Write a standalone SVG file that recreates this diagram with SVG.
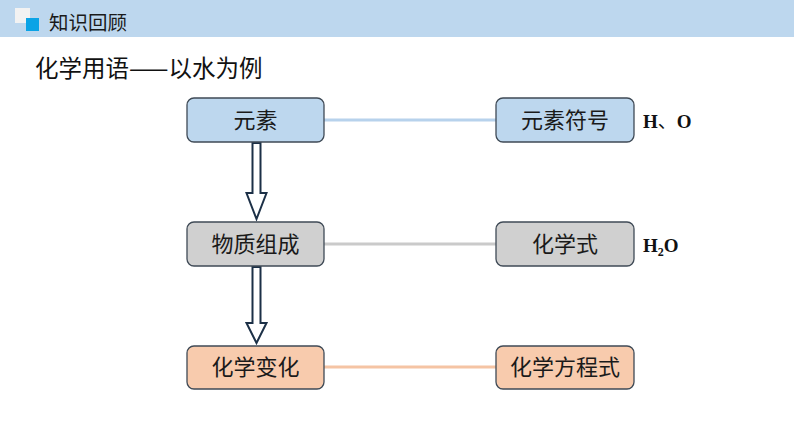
<svg xmlns="http://www.w3.org/2000/svg" width="794" height="447" viewBox="0 0 794 447">
<style>
.box{stroke:#3f4a56;stroke-width:1.3}
.bt{font-family:"Noto Sans CJK SC","Noto Sans",sans-serif;font-size:22px;fill:#1a1a1a;text-anchor:middle}
.chem{font-family:"Liberation Serif",serif;font-weight:bold;font-size:19px;fill:#111}
.arr{fill:#fff;stroke:#1c3047;stroke-width:2;stroke-linejoin:miter}
</style>
<rect x="0" y="0" width="794" height="447" fill="#fff"/>
<rect x="0" y="0" width="794" height="37" fill="#bdd7ee"/>
<rect x="15" y="8" width="15" height="15" fill="#f2f2f2"/>
<rect x="26" y="18" width="13" height="13" fill="#0aa3e6"/>
<text x="49" y="30" font-family="Noto Sans CJK SC,sans-serif" font-size="19.5" fill="#1a1a1a">知识回顾</text>
<text x="35" y="77" font-family="Noto Sans CJK SC,sans-serif" font-size="23.5" fill="#111">化学用语——以水为例</text>
<g id="connectors">
<line x1="324" y1="120" x2="496" y2="120" stroke="#b7d2ec" stroke-width="3"/>
<line x1="324" y1="244" x2="496" y2="244" stroke="#cacaca" stroke-width="3"/>
<line x1="324" y1="367" x2="496" y2="367" stroke="#f5c4a4" stroke-width="3"/>
<path class="arr" d="M252.5,143 H260.5 V193 H266.5 L256.5,219 L246.5,193 H252.5 Z"/>
<path class="arr" d="M252.5,267 H260.5 V323 H266.5 L256.5,343 L246.5,323 H252.5 Z"/>
</g>
<g id="n1"><rect class="box" x="187" y="98" width="137" height="44" rx="7" fill="#bdd7ee"/><text class="bt" x="255.5" y="128">元素</text></g>
<g id="n2"><rect class="box" x="496" y="98" width="138" height="44" rx="7" fill="#bdd7ee"/><text class="bt" x="565" y="128">元素符号</text></g>
<g id="n3"><rect class="box" x="187" y="222" width="137" height="44" rx="7" fill="#d0d0d0"/><text class="bt" x="255.5" y="252">物质组成</text></g>
<g id="n4"><rect class="box" x="496" y="222" width="138" height="44" rx="7" fill="#d0d0d0"/><text class="bt" x="565" y="252">化学式</text></g>
<g id="n5"><rect class="box" x="187" y="346" width="137" height="43" rx="7" fill="#f8cbad"/><text class="bt" x="255.5" y="375">化学变化</text></g>
<g id="n6"><rect class="box" x="496" y="346" width="138" height="43" rx="7" fill="#f8cbad"/><text class="bt" x="565" y="375">化学方程式</text></g>
<text class="chem" x="643" y="128">H<tspan font-family="Noto Sans CJK SC,sans-serif" font-weight="normal">、</tspan>O</text>
<text class="chem" x="643" y="252">H<tspan font-size="12" dy="4">2</tspan><tspan dy="-4">O</tspan></text>
</svg>
